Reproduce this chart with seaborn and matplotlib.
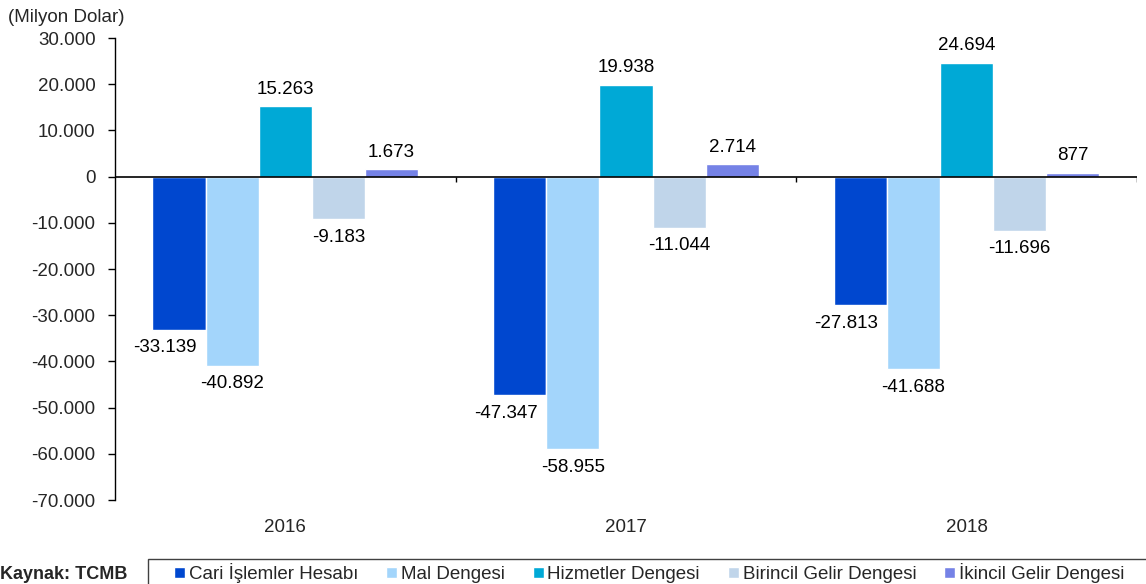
import matplotlib
matplotlib.use("Agg")
import matplotlib.pyplot as plt
from matplotlib.patches import Rectangle
import seaborn as sns
import pandas as pd

years = ["2016", "2017", "2018"]
series = ["Cari İşlemler Hesabı", "Mal Dengesi", "Hizmetler Dengesi",
          "Birincil Gelir Dengesi", "İkincil Gelir Dengesi"]
cari = [-33139, -47347, -27813]
mal = [-40892, -58955, -41688]
hizmetler = [15263, 19938, 24694]
birincil = [-9183, -11044, -11696]
ikincil = [1673, 2714, 877]
colors = ["#0047CF", "#A3D5FB", "#00A9D6", "#C0D5EA", "#7582E6"]
yticks = list(range(-70000, 30001, 10000))

rows = []
for name, vals in zip(series, [cari, mal, hizmetler, birincil, ikincil]):
    for y, v in zip(years, vals):
        rows.append({"Yıl": y, "Kalem": name, "Değer": v})
df = pd.DataFrame(rows)

sns.set_theme(style="white")
plt.rcParams["font.family"] = ["Liberation Sans", "DejaVu Sans"]
FS = 13.5

fig = plt.figure(figsize=(11.46, 5.84), dpi=100)
ax = fig.add_axes([0.1003, 0.1438, 0.8918, 0.7911])

sns.barplot(data=df, x="Yıl", y="Değer", hue="Kalem", order=years,
            hue_order=series, palette=colors, width=0.78, gap=0,
            saturation=1, ax=ax, legend=True, errorbar=None)

ax.set_ylim(-70000, 30000)
ax.set_xlim(-0.5, 2.5)
ax.set_yticks(yticks)
ax.set_yticklabels([f"{t:,}".replace(",", ".") for t in yticks], fontsize=FS)
ax.set_xlabel("")
ax.set_ylabel("")
for s in ["top", "right", "bottom"]:
    ax.spines[s].set_visible(False)
ax.spines["left"].set_color("black")
ax.spines["left"].set_linewidth(1)
ax.tick_params(axis="y", direction="out", length=5, width=1, color="black",
               left=True, pad=9)
ax.tick_params(axis="x", length=0, pad=14, labelsize=FS)

# zero line with downward ticks at the category boundaries
ax.axhline(0, color="black", lw=1.2, zorder=5)
ax.vlines([0.5, 1.5, 2.5], -1100, 0, color="black", lw=1, zorder=5)

# value labels
for i, container in enumerate(ax.containers):
    for bar in container:
        v = bar.get_height()
        x = bar.get_x() + bar.get_width() / 2
        txt = f"{int(round(v)):,}".replace(",", ".")
        dx = -10 if (i == 0 and v < 0) else 0
        if v >= 0:
            ax.annotate(txt, (x, v), xytext=(dx, 6), textcoords="offset points",
                        ha="center", va="bottom", fontsize=FS, color="black")
        else:
            ax.annotate(txt, (x, v), xytext=(dx, -7), textcoords="offset points",
                        ha="center", va="top", fontsize=FS, color="black")

handles, labels = ax.get_legend_handles_labels()
ax.get_legend().remove()

# legend box running off the right and bottom edges
fig.patches.append(Rectangle((148 / 1146, -0.2), 1.0, 0.2 + 1 - 559 / 584,
                             transform=fig.transFigure, fill=False,
                             edgecolor="#404040", lw=1, clip_on=False))
fig.legend(handles, labels, loc="upper left",
           bbox_to_anchor=(174 / 1146, 1 - 563 / 584), ncol=5,
           fontsize=FS, frameon=False,
           handlelength=0.58, handleheight=0.58, handletextpad=0.2,
           columnspacing=1.5, borderpad=0, borderaxespad=0)

fig.text(0.007, 1 - 17 / 584, "(Milyon Dolar)", fontsize=FS, va="center",
         ha="left")
fig.text(0.0, 1 / 584, "Kaynak: TCMB", fontsize=FS - 0.5, fontweight="bold",
         va="bottom", ha="left")

fig.savefig("out.png", dpi=100)
